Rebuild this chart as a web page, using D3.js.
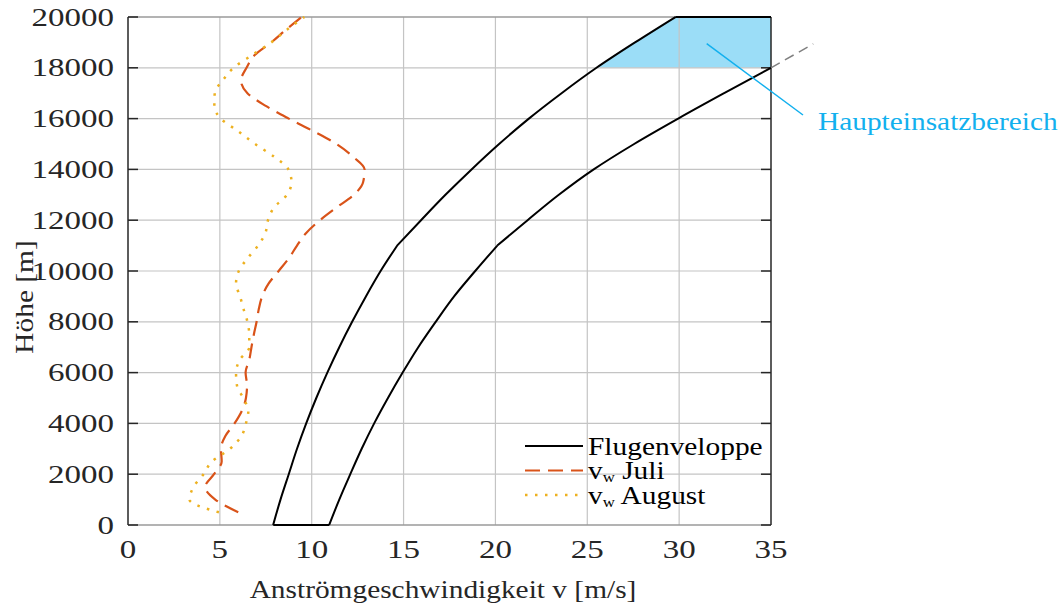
<!DOCTYPE html>
<html><head><meta charset="utf-8">
<script src="https://cdn.jsdelivr.net/npm/d3@7"></script>
<style>body{margin:0;background:#fff}svg{display:block}text{font-family:"Liberation Serif","Times New Roman",serif}</style>
</head><body>
<svg id="c" width="1063" height="607"></svg>
<script>
// ---- data ----
const xTicks = [0,5,10,15,20,25,30,35];
const yTicks = [0,2000,4000,6000,8000,10000,12000,14000,16000,18000,20000];
const envLeftH = [0,1000,2000,3000,4000,5000,6000,7000,8000,9000,10000,11000,12000,13000,14000,15000,16000,17000,18000,19000,20000];
const envLeftV = [7.9,8.3,8.75,9.2,9.7,10.25,10.85,11.5,12.2,12.95,13.75,14.65,15.95,17.28,18.7,20.2,21.82,23.6,25.5,27.6,29.8];
const envRightH = [0,1000,2000,3000,4000,5000,6000,7000,8000,9000,10000,11000,12000,13000,14000,15000,16000,17000,18000];
const envRightV = [10.95,11.5,12.1,12.72,13.4,14.15,14.95,15.8,16.75,17.75,18.9,20.1,21.75,23.45,25.35,27.55,29.95,32.45,35.0];
const kinkH = 11000;
const extH = [18000,18940];
const extV = [35.0,37.3];
const windH = [500,1000,1500,2000,2500,3000,3500,4000,4500,5000,5500,6000,6500,7000,7500,8000,8500,9000,9500,10000,10500,11000,11500,12000,12500,13000,13500,14000,14500,15000,15500,16000,16500,17000,17500,18000,18500,19000,19500,20000];
const juli = [6.0,4.75,4.2,4.68,5.1,5.06,5.3,5.8,6.2,6.42,6.48,6.4,6.6,6.72,6.85,7.0,7.12,7.3,7.65,8.2,8.75,9.2,9.7,10.45,11.35,12.3,12.8,12.88,12.25,11.35,10.1,8.75,7.5,6.5,6.15,6.45,6.9,7.8,8.6,9.45];
const august = [4.95,3.35,3.57,4.11,4.57,5.55,6.17,6.42,6.55,6.27,5.93,5.88,6.08,6.6,6.6,6.5,6.29,6.1,5.88,6.03,6.51,7.08,7.48,7.62,7.95,8.65,8.9,8.73,7.95,6.92,6.0,5.05,4.7,4.72,5.15,5.75,6.75,7.8,8.65,9.6];
const regionLow = 18000, regionHigh = 20000, regionVmax = 35;
const annotText = "Haupteinsatzbereich";
const annotFrom = [31.5, 18950];

// ---- layout ----
const svg = d3.select("#c");
const L=128, R=771, T=17, B=525;
const x = d3.scaleLinear().domain([0,35]).range([L,R]);
const y = d3.scaleLinear().domain([0,20000]).range([B,T]);
const fs = 26, sxW = 1.13, sxD = 1.27;

function label(parent, px, py, txt, anchor, sx, color, rot, size){
  const gg = parent.append("g").attr("transform",`translate(${px},${py})`+(rot?` rotate(${rot})`:"")+` scale(${sx},1)`);
  return gg.append("text").attr("text-anchor",anchor).attr("font-size",size||fs).attr("fill",color||"#262626").text(txt);
}

const sm = d3.line().x(d=>x(d[0])).y(d=>y(d[1])).curve(d3.curveMonotoneY);
const leftPts = envLeftH.map((h,i)=>[envLeftV[i],h]);
const rightPts = envRightH.map((h,i)=>[envRightV[i],h]);
const regionCurve = leftPts.filter(p=>p[1]>=regionLow);
svg.append("path").attr("d", sm(regionCurve)+`L${x(regionVmax)},${y(regionHigh)}L${x(regionVmax)},${y(regionLow)}Z`)
  .attr("fill","#9bddf7").attr("stroke","none");

// grid
const g = svg.append("g");
g.selectAll(".gx").data(xTicks.slice(1,-1)).join("line")
  .attr("x1",d=>x(d)).attr("x2",d=>x(d)).attr("y1",T).attr("y2",B)
  .attr("stroke","#c4c4c4").attr("stroke-width",1.2);
g.selectAll(".gy").data(yTicks.slice(1,-1)).join("line")
  .attr("y1",d=>y(d)).attr("y2",d=>y(d)).attr("x1",L).attr("x2",R)
  .attr("stroke","#c4c4c4").attr("stroke-width",1.2);

// axes box
svg.append("line").attr("x1",L).attr("x2",R).attr("y1",B).attr("y2",B).attr("stroke","#9a9a9a").attr("stroke-width",1.5);
svg.append("line").attr("x1",L).attr("x2",R).attr("y1",T).attr("y2",T).attr("stroke","#9a9a9a").attr("stroke-width",1.5);
svg.append("line").attr("x1",L).attr("x2",L).attr("y1",T).attr("y2",B).attr("stroke","#262626").attr("stroke-width",1.5);
svg.append("line").attr("x1",R).attr("x2",R).attr("y1",T).attr("y2",B).attr("stroke","#262626").attr("stroke-width",1.5);
svg.selectAll(".tl").data(yTicks).join("line").attr("x1",L).attr("x2",L+10).attr("y1",d=>y(d)).attr("y2",d=>y(d)).attr("stroke","#262626").attr("stroke-width",1.5);
svg.selectAll(".tr").data(yTicks).join("line").attr("x1",R-10).attr("x2",R).attr("y1",d=>y(d)).attr("y2",d=>y(d)).attr("stroke","#262626").attr("stroke-width",1.5);

// tick labels
yTicks.forEach(d=>label(svg, L-14, y(d)+8.5, String(d), "end", sxD));
xTicks.forEach(d=>label(svg, x(d), B+33, String(d), "middle", sxD));

// axis labels
label(svg, 443, 598, "Anströmgeschwindigkeit v [m/s]", "middle", sxW);
label(svg, 33, 297, "Höhe [m]", "middle", sxW, "#262626", -90);

// envelope: smooth segments with kink at 11000
const envPath = [
  sm(leftPts.filter(p=>p[1]<=kinkH)),
  sm(leftPts.filter(p=>p[1]>=kinkH)),
  sm(rightPts.filter(p=>p[1]<=kinkH)),
  sm(rightPts.filter(p=>p[1]>=kinkH)),
  `M${x(leftPts[0][0])},${y(0)}L${x(rightPts[0][0])},${y(0)}`,
  `M${x(leftPts[leftPts.length-1][0])},${y(regionHigh)}L${x(regionVmax)},${y(regionHigh)}`
].join("");
svg.append("path").attr("d",envPath).attr("fill","none").attr("stroke","#000").attr("stroke-width",2).attr("stroke-linejoin","round");
const ln = d3.line().x(d=>x(d[0])).y(d=>y(d[1]));
svg.append("path").attr("d",ln(extH.map((h,i)=>[extV[i],h]))).attr("fill","none").attr("stroke","#808080").attr("stroke-width",1.5).attr("stroke-dasharray","10,6");

// wind
svg.append("path").attr("d",sm(windH.map((h,i)=>[juli[i],h]))).attr("fill","none").attr("stroke","#D95319").attr("stroke-width",2.2).attr("stroke-dasharray","15,8");
svg.append("path").attr("d",sm(windH.map((h,i)=>[august[i],h]))).attr("fill","none").attr("stroke","#EDB120").attr("stroke-width",2.5).attr("stroke-dasharray","2.5,7.5");

// annotation
svg.append("line").attr("x1",x(annotFrom[0])).attr("y1",y(annotFrom[1])).attr("x2",803).attr("y2",115).attr("stroke","#12b0ee").attr("stroke-width",1.5);
label(svg, 818, 130, annotText, "start", sxW, "#12b0ee");

// legend
const leg = [{t:"Flugenveloppe",c:"#000",d:null,w:2,sub:false},{t:"Juli",c:"#D95319",d:"15,8",w:2.2,sub:true},{t:"August",c:"#EDB120",d:"2.5,7.5",w:2.5,sub:true}];
leg.forEach((e,i)=>{
  const cy = 446 + i*24.5;
  svg.append("line").attr("x1",525).attr("x2",583).attr("y1",cy).attr("y2",cy).attr("stroke",e.c).attr("stroke-width",e.w).attr("stroke-dasharray",e.d);
  const t = label(svg, 588, cy+8.5, "", "start", 1.2, "#000", 0, 24.5);
  if(e.sub){ t.append("tspan").text("v"); t.append("tspan").attr("font-size",14).attr("dy",3).text("w"); t.append("tspan").attr("dy",-3).text(" "+e.t); }
  else t.text(e.t);
});
</script></body></html>
